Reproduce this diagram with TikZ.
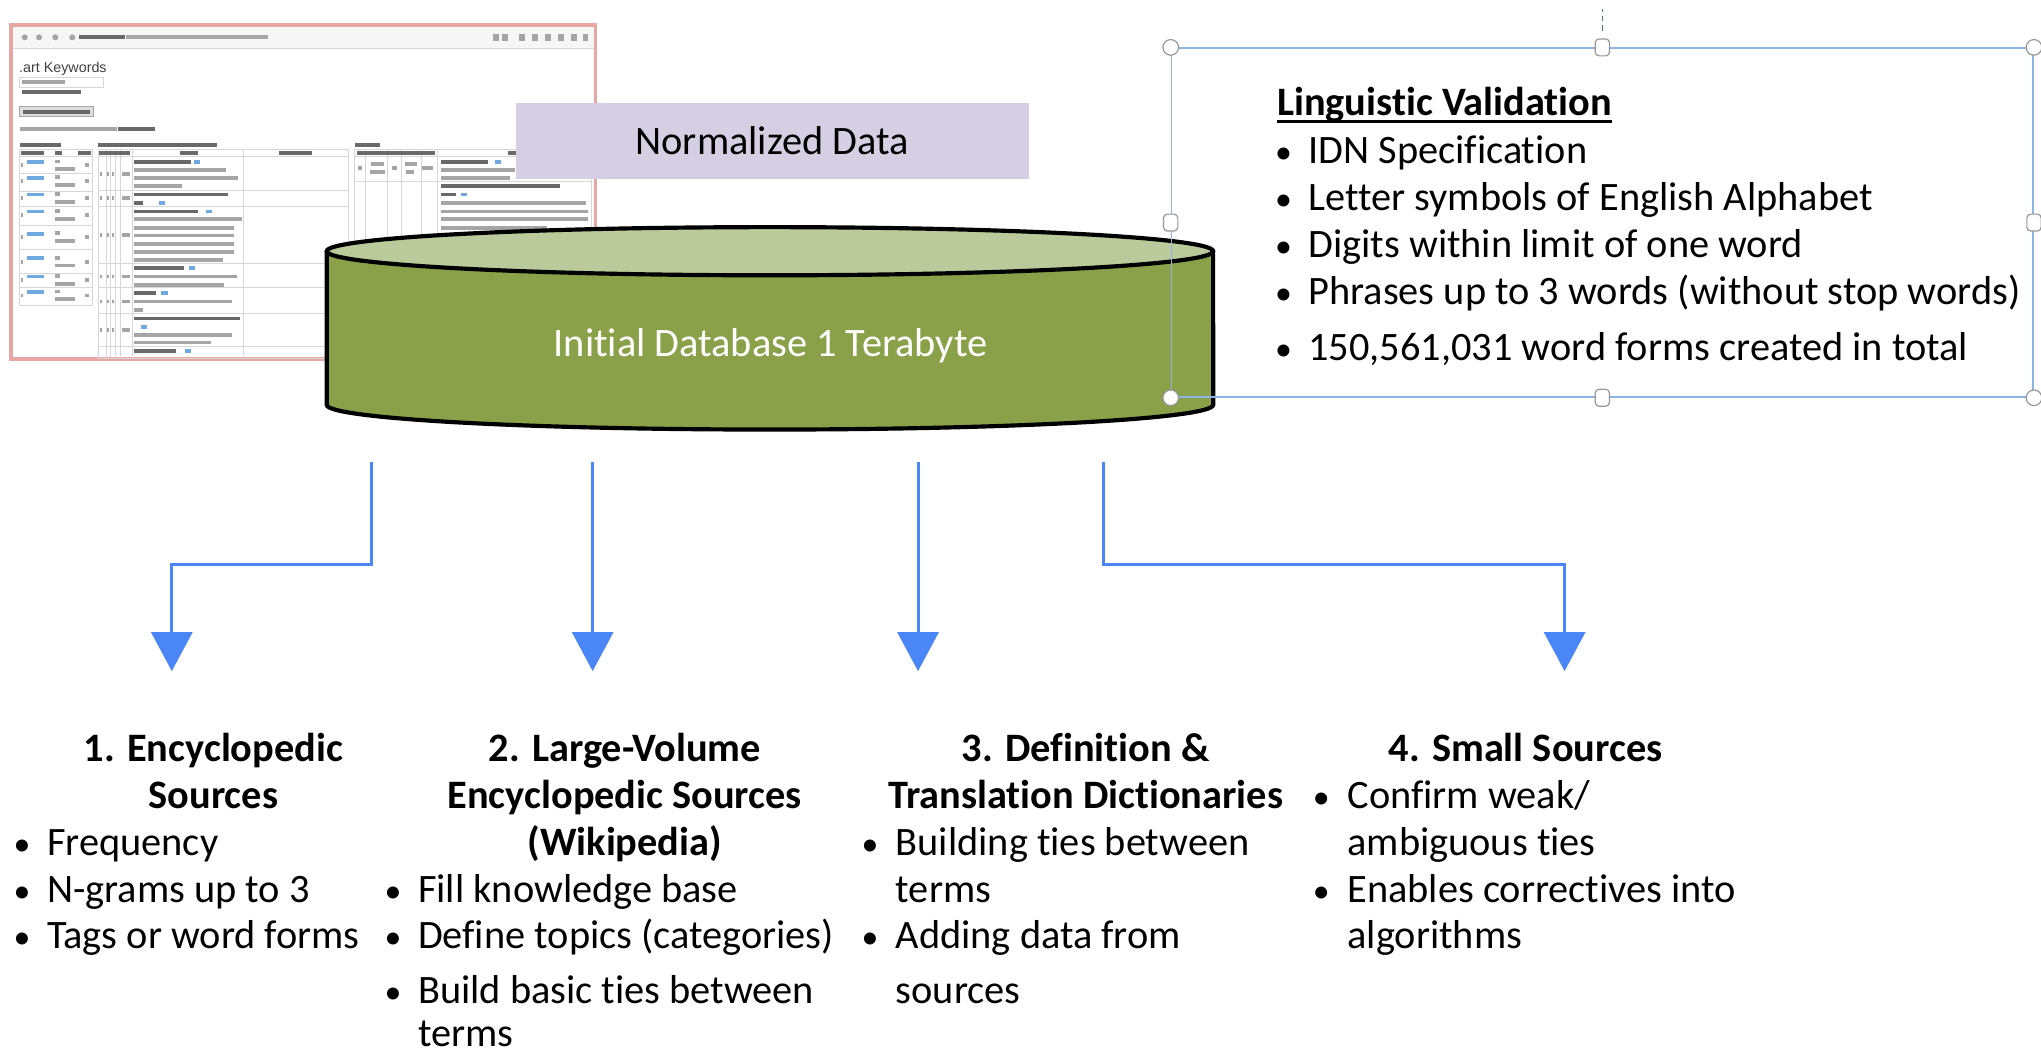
\documentclass[tikz,border=0pt]{standalone}
\usepackage{fontspec}
\setmainfont{Carlito}[Ligatures=NoCommon]
\newfontfamily\shotfont{Liberation Sans}
\usetikzlibrary{arrows.meta}
\definecolor{arrowblue}{RGB}{74,134,246}
\definecolor{cylside}{RGB}{138,161,74}
\definecolor{cyltop}{RGB}{186,202,154}
\definecolor{normbox}{RGB}{214,207,227}
\definecolor{selblue}{RGB}{142,180,227}
\definecolor{handlegray}{RGB}{150,150,150}
\definecolor{dashblue}{RGB}{79,110,150}
\definecolor{shotborder}{RGB}{232,166,163}
\definecolor{shotgray}{RGB}{165,165,165}
\definecolor{shotdark}{RGB}{105,105,105}
\definecolor{shotblue}{RGB}{110,170,225}
\definecolor{shotline}{RGB}{215,215,215}
\definecolor{barbg}{RGB}{246,246,246}
\newcommand\shotbar[4][shotgray]{\fill[#1] (#2,#4-1.45) rectangle (#3,#4+1.45);}
\begin{document}
\begin{tikzpicture}[x=1bp,y=-1bp,
  txt/.style={inner sep=0pt, font=\fontsize{31bp}{37bp}\selectfont},
  head/.style={inner sep=0pt, font=\fontsize{31bp}{37bp}\selectfont\bfseries, anchor=base},
  item/.style={txt, anchor=base west},
  bul/.style={inner sep=0pt, font=\fontsize{26bp}{30bp}\selectfont, anchor=base},
  flow/.style={draw=arrowblue, line width=2.4bp, -{Triangle[width=31.5bp,length=30bp]}},
  handlecirc/.style={circle, draw=handlegray, fill=white, line width=0.9bp, minimum size=12bp, inner sep=0pt},
  handlesq/.style={rectangle, rounded corners=3bp, draw=handlegray, fill=white, line width=0.9bp, minimum width=11bp, minimum height=13bp, inner sep=0pt},
]
\useasboundingbox (0,0) rectangle (1568,811);

% ---------------- screenshot ----------------
\draw[shotborder, line width=3bp, fill=white] (8.5,19.5) rectangle (457.5,275.5);
\fill[barbg] (10,21) rectangle (456,37.5);
\draw[shotline, line width=0.6bp] (10,37.5) -- (456,37.5);
\foreach \x in {19,30,42.5,55.5} {\fill[shotgray] (\x,28.7) circle (2.3bp);}
\shotbar[shotdark]{61}{96}{28.7}
\shotbar{97}{206}{28.7}
\foreach \x in {381,388,401,411,421,431,441,450} {\fill[shotgray] (\x-2,26.2) rectangle (\x+2,31.2);}
\node[inner sep=0pt, anchor=base west, font=\shotfont\fontsize{11bp}{12bp}\selectfont, text=black!75] (shottitle) at (14.5,55.5) {.art Keywords};
\draw[shotline, fill=white, line width=0.6bp] (15.2,59.4) rectangle (79.6,67);
\shotbar{17}{50}{63.2}
\shotbar[shotdark]{16.7}{62}{70.4}
\filldraw[fill=black!13, draw=black!35, line width=0.6bp] (15.2,82) rectangle (72,89.6);
\shotbar[shotdark]{18}{69}{85.8}
\shotbar{15.2}{90}{99.1}
\shotbar[shotdark]{91}{119.4}{99.1}
\shotbar[shotdark]{15.2}{47}{111.4}
\shotbar[shotdark]{75.3}{166.5}{111.4}
\shotbar[shotdark]{272.5}{291.6}{111.4}
% left table
\draw[shotline, line width=0.6bp] (15.2,114.5) rectangle (70.8,234.3);
\foreach \y in {120.4,133.2,147.2,158.8,172.9,191.5,209.9,220.7}
  {\draw[shotline, line width=0.6bp] (15.2,\y) -- (70.8,\y);}
\shotbar[shotdark]{16}{34}{117.4}
\shotbar[shotdark]{42.5}{48}{117.4}
\shotbar[shotdark]{60}{70}{117.4}
\foreach \y in {127,139,152,165,182,201,215,227}{
  \shotbar{16}{18}{\y}
  \shotbar[shotblue]{20.6}{33.5}{\y-2.5}
  \shotbar{42.5}{46}{\y-3}
  \shotbar{42.5}{57.7}{\y+3}
  \shotbar{65}{68}{\y}
}
% middle table
\draw[shotline, line width=0.6bp] (75.3,114.5) rectangle (267.3,275.5);
\foreach \x in {81.4,85,88.7,92.6,101.8,186.8}
  {\draw[shotline, line width=0.6bp] (\x,114.5) -- (\x,275.5);}
\foreach \y in {120.4,146.5,158.8,202.3,220.7,240.7,266.3}
  {\draw[shotline, line width=0.6bp] (75.3,\y) -- (267.3,\y);}
\shotbar[shotdark]{76}{100}{117.4}
\shotbar[shotdark]{138}{152}{117.4}
\shotbar[shotdark]{214}{240}{117.4}
\foreach \y/\e in {124.2/147,149.5/175,155.7/110,162.4/152,205.9/141,225.3/120,244.6/184,269.9/135}
  {\shotbar[shotdark]{103.3}{\e}{\y}}
\foreach \y/\e in {130.6/174,136.7/183,142.9/140,168.5/186,174.9/180,181/180,187.2/180,193.6/180,199.7/171,212.5/182,218.7/172,231.7/178,237.9/110,257.1/178,263.2/162}
  {\shotbar{103.3}{\e}{\y}}
\foreach \y/\b in {124.2/149,155.7/122,162.4/158,205.9/145,225.3/124,251/108,269.9/142}
  {\shotbar[shotblue]{\b}{\b+5}{\y}}
\foreach \y in {133.7,152.4,180.5,212.5,231.7,253.5}{
  \shotbar{76.5}{78.5}{\y}
  \shotbar{82.2}{84}{\y}
  \shotbar{86}{87.8}{\y}
  \shotbar{94}{100}{\y}
}
% right table
\draw[shotline, line width=0.6bp] (272.6,114.5) rectangle (454.3,275.5);
\foreach \x in {281,297.7,308.3,323.5,335.7}
  {\draw[shotline, line width=0.6bp] (\x,114.5) -- (\x,275.5);}
\foreach \y in {120.4,139.6}
  {\draw[shotline, line width=0.6bp] (272.6,\y) -- (454.3,\y);}
\shotbar[shotdark]{274}{334}{117.4}
\shotbar[shotdark]{390}{400}{117.4}
\shotbar{275}{278}{129}
\shotbar{285}{295}{126}
\shotbar{284}{296}{132}
\shotbar{301}{305}{129}
\shotbar{311}{320}{126}
\shotbar{312}{318}{132}
\shotbar{324}{333}{129}
\foreach \y/\e in {124.2/375,142.9/430,149.5/350}
  {\shotbar[shotdark]{338.7}{\e}{\y}}
\foreach \y/\e in {130.6/396,136.7/392,155.7/450,162.4/452,168.5/452,174.9/420}
  {\shotbar{338.7}{\e}{\y}}
\shotbar[shotblue]{380}{385}{124.2}
\shotbar[shotblue]{354}{359}{149.5}

% ---------------- normalized data ----------------
\node[txt, fill=normbox, minimum width=394bp, minimum height=58bp] (norm) at (593.2,108.4) {Normalized Data};

% ---------------- cylinder ----------------
\fill[cylside] (251,193) -- (251,311) arc[start angle=180, end angle=360, x radius=340.5bp, y radius=19bp] -- (932,193) -- cycle;
\draw[black, line width=3.2bp] (251,193) -- (251,311) arc[start angle=180, end angle=360, x radius=340.5bp, y radius=19bp] -- (932,193);
\filldraw[fill=cyltop, draw=black, line width=3.2bp] (591.5,193) ellipse [x radius=340.5bp, y radius=18.5bp];
\node[txt, anchor=base, text=white] (db) at (592,274) {Initial Database 1 Terabyte};

% ---------------- selection box ----------------
\node[draw=selblue, line width=1.2bp, minimum width=662bp, minimum height=268bp, inner sep=0pt] (sel) at (1231,171) {};
\node[handlecirc] (hnw) at (sel.north west) {};
\node[handlecirc] (hne) at (sel.north east) {};
\node[handlecirc] (hsw) at (sel.south west) {};
\node[handlecirc] (hse) at (sel.south east) {};
\node[handlesq] (hn) at (sel.north) {};
\node[handlesq] (hs) at (sel.south) {};
\node[handlesq] (hw) at (sel.west) {};
\node[handlesq] (he) at (sel.east) {};
\coordinate (rot) at (1231,7);
\draw[dashblue, line width=1bp, dash pattern=on 4bp off 3bp, shorten <=6bp] (hn.north) -- (rot);

\node[inner sep=0pt, anchor=base west, font=\fontsize{31bp}{37bp}\selectfont\bfseries] (lvt) at (981,88.5) {Linguistic Validation};
\draw[line width=2bp] ([yshift=-5bp]lvt.base west) -- ([yshift=-5bp]lvt.base east);
\node[bul] (lb1) at (986,125.5) {•}; \node[item] (li1) at (1005,125.5) {IDN Specification};
\node[bul] (lb2) at (986,162) {•}; \node[item] (li2) at (1005,162) {Letter symbols of English Alphabet};
\node[bul] (lb3) at (986,198) {•}; \node[item] (li3) at (1005,198) {Digits within limit of one word};
\node[bul] (lb4) at (986,234.3) {•}; \node[item] (li4) at (1005,234.3) {Phrases up to 3 words (without stop words)};
\node[bul] (lb5) at (986,276.6) {•}; \node[item] (li5) at (1005,276.6) {150,561,031 word forms created in total};

% ---------------- arrows ----------------
\coordinate (s1) at (285.4,355); \coordinate (e1) at (132,515.6);
\coordinate (s2) at (455.3,355); \coordinate (e2) at (455.3,515.6);
\coordinate (s3) at (705.3,355); \coordinate (e3) at (705.3,515.6);
\coordinate (s4) at (848,355);   \coordinate (e4) at (1202,515.6);
\draw[flow] (s1) -- ++(0,78.4) -| (e1);
\draw[flow] (s2) -- (e2);
\draw[flow] (s3) -- (e3);
\draw[flow] (s4) -- ++(0,78.4) -| (e4);

% ---------------- column 1 ----------------
\node[head] (h1a) at (164,585) {1. Encyclopedic};
\node[head] (h1b) at (164,621) {Sources};
\node[bul] (b1a) at (17,657) {•}; \node[item] (t1a) at (36,657) {Frequency};
\node[bul] (b1b) at (17,693) {•}; \node[item] (t1b) at (36,693) {N-grams up to 3};
\node[bul] (b1c) at (17,729) {•}; \node[item] (t1c) at (36,729) {Tags or word forms};

% ---------------- column 2 ----------------
\node[head] (h2a) at (480,585) {2. Large-Volume};
\node[head] (h2b) at (480,621) {Encyclopedic Sources};
\node[head] (h2c) at (480,657) {(Wikipedia)};
\node[bul] (b2a) at (302,693) {•}; \node[item] (t2a) at (321,693) {Fill knowledge base};
\node[bul] (b2b) at (302,729) {•}; \node[item] (t2b) at (321,729) {Define topics (categories)};
\node[bul] (b2c) at (302,771) {•}; \node[item] (t2c) at (321,771) {Build basic ties between};
\node[item] (t2d) at (321,804) {terms};

% ---------------- column 3 ----------------
\node[head] (h3a) at (834,585) {3. Definition \&};
\node[head] (h3b) at (834,621) {Translation Dictionaries};
\node[bul] (b3a) at (668.5,657) {•}; \node[item] (t3a) at (688,657) {Building ties between};
\node[item] (t3b) at (688,693) {terms};
\node[bul] (b3c) at (668.5,729) {•}; \node[item] (t3c) at (688,729) {Adding data from};
\node[item] (t3d) at (688,771) {sources};

% ---------------- column 4 ----------------
\node[head] (h4a) at (1172,585) {4. Small Sources};
\node[bul] (b4a) at (1015,621) {•}; \node[item] (t4a) at (1035,621) {Confirm weak/};
\node[item] (t4b) at (1035,657) {ambiguous ties};
\node[bul] (b4c) at (1015,693) {•}; \node[item] (t4c) at (1035,693) {Enables correctives into};
\node[item] (t4d) at (1035,729) {algorithms};
\end{tikzpicture}
\end{document}
